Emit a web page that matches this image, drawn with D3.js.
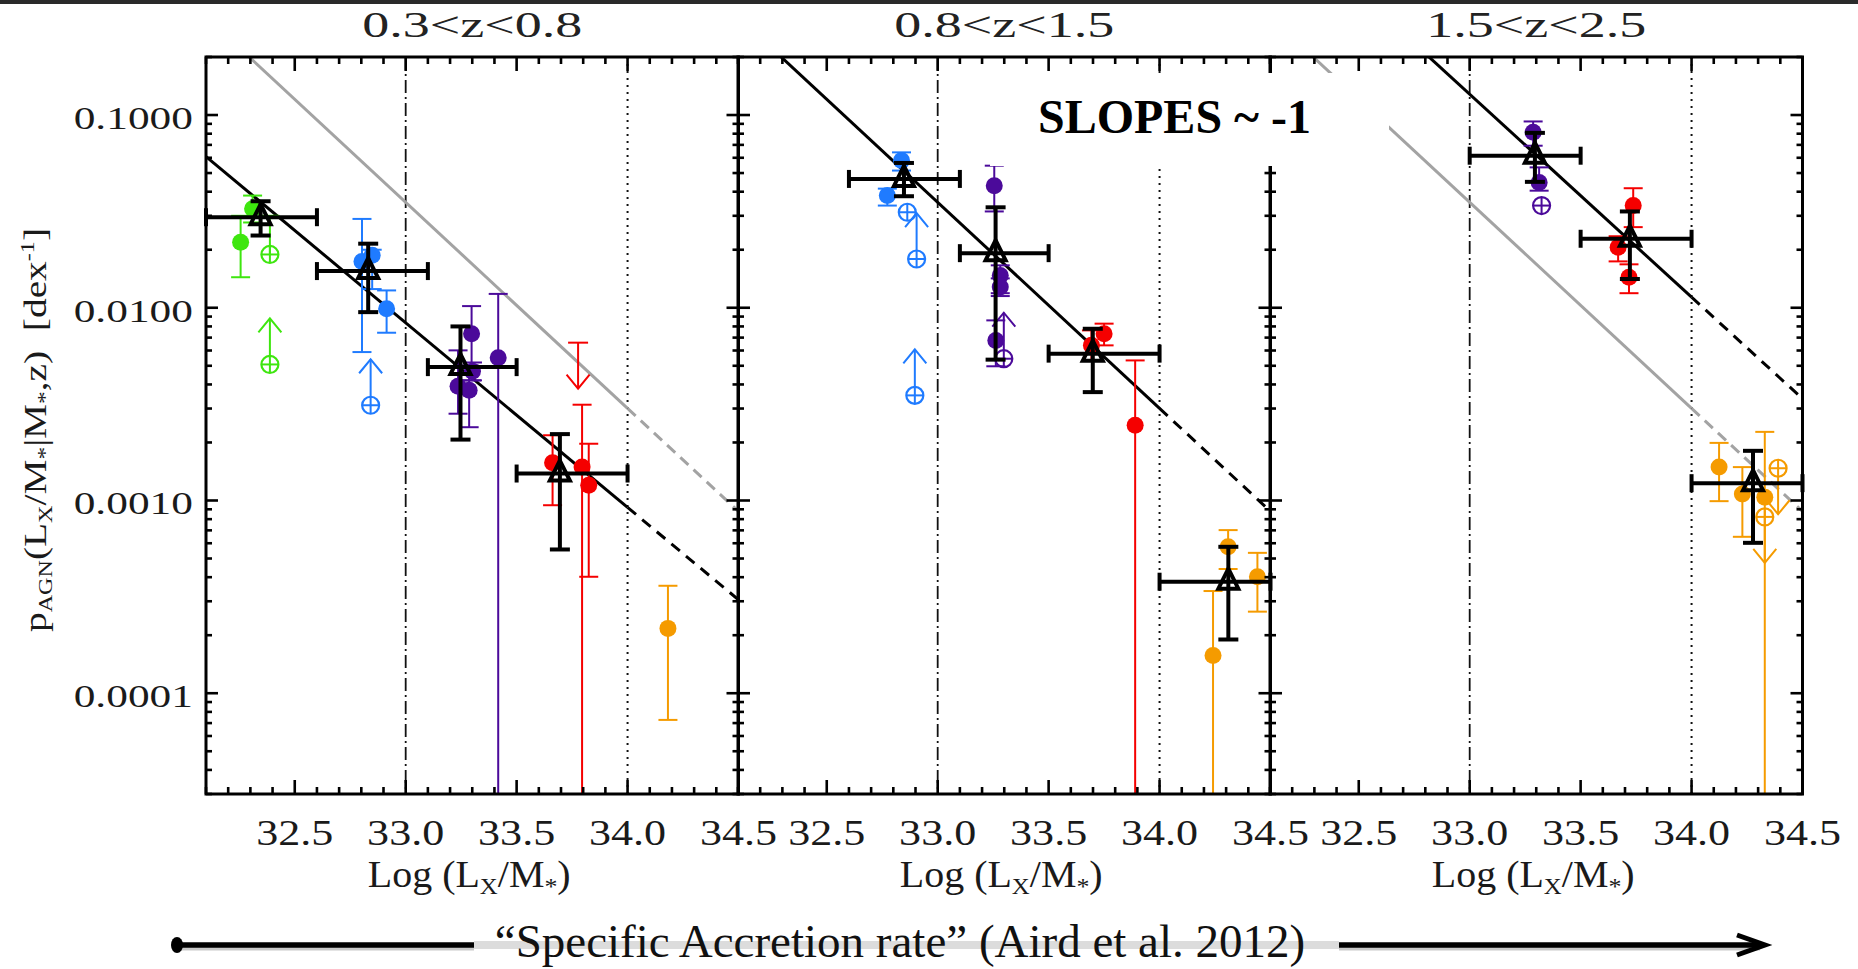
<!DOCTYPE html>
<html><head><meta charset="utf-8">
<script src="https://cdn.jsdelivr.net/npm/d3@7"></script>
<style>body{margin:0;background:#fff;} svg{display:block;}</style>
</head><body>
<svg id="c" width="1858" height="969"></svg>
<script>
// ---------------- DATA ----------------
const panelTitles = ["0.3<z<0.8", "0.8<z<1.5", "1.5<z<2.5"];
const xTickVals = [32.5, 33.0, 33.5, 34.0, 34.5];
const xTickLabels = ["32.5", "33.0", "33.5", "34.0", "34.5"];
const yTickVals = [0.0001, 0.001, 0.01, 0.1];
const yTickLabels = ["0.0001", "0.0010", "0.0100", "0.1000"];
const xDomain = [32.1, 34.5];
const yDomain = [3e-5, 0.2];
const refDashDot = 33.0;
const refDotted = 34.0;
// fits: log10(p) = fitLog34 + fitSlope * (x - 34)
const fitLog34 = [-3.036, -2.522, -1.945];
const fitSlope = [-0.958, -1.069, -1.053];
const grayFitPanels = [0, 2];   // panels showing the 0.8<z<1.5 fit in grey

// colored points: [x, p, pLow, pHigh, kind]
const green1 = [
  [32.256, 0.0219, 0.0144, 0.0300, "f"],
  [32.310, 0.0326, 0.0277, 0.0382, "f"],
  [32.388, 0.0189, 0.0189, 0.0300, "o"],
  [32.388, 0.00508, null, null, "o^"]
];
const blue1 = [
  [32.803, 0.0174, 0.00589, 0.0289, "f"],
  [32.849, 0.0187, 0.0125, 0.0200, "f"],
  [32.914, 0.00988, 0.00742, 0.0123, "f"],
  [32.842, 0.00312, null, null, "o^"]
];
const purple1 = [
  [33.297, 0.00733, 0.00420, 0.0102, "f"],
  [33.417, 0.00551, 1e-6, 0.0118, "f"],
  [33.236, 0.00391, 0.00282, 0.00601, "f"],
  [33.286, 0.00373, 0.00240, 0.00502, "f"],
  [33.301, 0.00469, 0.00420, 0.00520, "f"]
];
const red1 = [
  [33.777, 0.00659, null, null, "ul"],
  [33.662, 0.00157, 0.000945, 0.00218, "f"],
  [33.795, 0.00149, 1e-6, 0.00314, "f"],
  [33.825, 0.00120, 0.000402, 0.00197, "f"]
];
const orange1 = [
  [34.182, 0.000217, 0.0000727, 0.000361, "f"]
];
const blue2 = [
  [32.837, 0.0580, 0.0515, 0.0640, "f"],
  [32.773, 0.0382, 0.0339, 0.0415, "f"],
  [32.863, 0.0313, 0.0313, 0.0313, "o"],
  [32.905, 0.0179, null, null, "o^"],
  [32.897, 0.00351, null, null, "o^"]
];
const purple2 = [
  [33.255, 0.0430, 0.0316, 0.0546, "f"],
  [33.282, 0.0147, 0.0119, 0.0166, "f"],
  [33.282, 0.0128, 0.0115, 0.0142, "f"],
  [33.262, 0.00677, 0.00497, 0.0086, "f"],
  [33.298, 0.00544, null, null, "o^"]
];
const red2 = [
  [33.693, 0.00638, 0.00533, 0.00763, "f"],
  [33.750, 0.00733, 0.00638, 0.00827, "f"],
  [33.890, 0.00246, 1e-6, 0.00533, "f"]
];
const orange2 = [
  [34.309, 0.000575, 0.000441, 0.000702, "f"],
  [34.441, 0.000402, 0.000265, 0.000535, "f"],
  [34.241, 0.000157, 1e-6, 0.000339, "f"]
];
const purple3 = [
  [33.286, 0.0813, 0.0693, 0.0926, "f"],
  [33.313, 0.0447, 0.0405, 0.0535, "f"],
  [33.324, 0.0339, 0.0339, 0.0339, "o"]
];
const red3 = [
  [33.737, 0.0339, 0.0262, 0.0417, "f"],
  [33.669, 0.0206, 0.0174, 0.0235, "f"],
  [33.718, 0.0144, 0.0119, 0.0168, "f"]
];
const orange3 = [
  [34.124, 0.00149, 0.000992, 0.00199, "f"],
  [34.229, 0.00108, 0.000648, 0.00149, "f"],
  [34.330, 0.00104, 1e-6, 0.00227, "f"],
  [34.390, 0.00147, null, null, "ov"],
  [34.330, 0.000822, null, null, "ov"]
];
// binned (black triangles): [x, xLow, xHigh, p, pLow, pHigh]
const binned1 = [
  [32.346, 32.1, 32.6, 0.0295, 0.0237, 0.0357],
  [32.831, 32.6, 33.1, 0.0155, 0.00949, 0.0215],
  [33.247, 33.1, 33.5, 0.00492, 0.00207, 0.00800],
  [33.695, 33.5, 34.0, 0.00138, 0.000557, 0.00221]
];
const binned2 = [
  [32.848, 32.6, 33.1, 0.0466, 0.0379, 0.0564],
  [33.261, 33.1, 33.5, 0.0192, 0.00538, 0.0332],
  [33.699, 33.5, 34.0, 0.00578, 0.00365, 0.00778],
  [34.310, 34.0, 34.5, 0.000379, 0.000190, 0.000575]
];
const binned3 = [
  [33.294, 33.0, 33.5, 0.0615, 0.0450, 0.0808],
  [33.722, 33.5, 34.0, 0.0228, 0.0141, 0.0316],
  [34.277, 34.0, 34.5, 0.00123, 0.000603, 0.00181]
];

// ---------------- STYLE / LAYOUT ----------------
const C = {green: "#3ee60f", blue: "#1f7bff", purple: "#4b0a9a", red: "#f50000", orange: "#f59b00"};
const colored = [
  [[green1, C.green], [blue1, C.blue], [purple1, C.purple], [red1, C.red], [orange1, C.orange]],
  [[blue2, C.blue], [purple2, C.purple], [red2, C.red], [orange2, C.orange]],
  [[purple3, C.purple], [red3, C.red], [orange3, C.orange]]
];
const binned = [binned1, binned2, binned3];

const W = 1858, H = 969;
const PL = [206, 738, 1270], PW = 532.5, PT = 57, PB = 794;
const FONT = "'Liberation Serif', 'Times New Roman', serif";

const svg = d3.select("#c");
const xs = PL.map(l => d3.scaleLinear().domain(xDomain).range([l, l + PW]));
const y = d3.scaleLog().domain(yDomain).range([PB, PT]);

const defs = svg.append("defs");
PL.forEach((l, i) => {
  defs.append("clipPath").attr("id", "clip" + i).append("rect")
    .attr("x", l).attr("y", PT).attr("width", PW).attr("height", PB - PT);
});
defs.append("clipPath").attr("id", "titleClip").append("rect")
  .attr("x", 0).attr("y", 13).attr("width", W).attr("height", 60);

// top dark strip
svg.append("rect").attr("x", 0).attr("y", 0).attr("width", W).attr("height", 4).attr("fill", "#2a2a2a");

function seg(g, x1, y1, x2, y2, color, w, dash) {
  const l = g.append("line").attr("x1", x1).attr("y1", y1).attr("x2", x2).attr("y2", y2)
    .attr("stroke", color).attr("stroke-width", w);
  if (dash) l.attr("stroke-dasharray", dash);
  return l;
}

function fitVal(fi, x) { return Math.pow(10, fitLog34[fi] + fitSlope[fi] * (x - 34)); }

const titleG = svg.append("g").attr("clip-path", "url(#titleClip)");

// ---------------- PANELS ----------------
PL.forEach((l, i) => {
  const X = xs[i];
  const g = svg.append("g").attr("clip-path", `url(#clip${i})`);
  // reference vertical lines
  seg(g, X(refDashDot), PT, X(refDashDot), PB, "#111", 1.8, "13,4,2,4");
  seg(g, X(refDotted), PT, X(refDotted), PB, "#111", 2, "2,5");
  // gray fit
  if (grayFitPanels.includes(i)) {
    seg(g, X(xDomain[0]), y(fitVal(1, xDomain[0])), X(34), y(fitVal(1, 34)), "#a3a3a3", 3);
    seg(g, X(34), y(fitVal(1, 34)), X(xDomain[1]), y(fitVal(1, xDomain[1])), "#a3a3a3", 3, "11,7");
  }
  // black fit
  seg(g, X(xDomain[0]), y(fitVal(i, xDomain[0])), X(34), y(fitVal(i, 34)), "#000", 3);
  seg(g, X(34), y(fitVal(i, 34)), X(xDomain[1]), y(fitVal(i, xDomain[1])), "#000", 3, "11,8");

  // colored points
  const gd = svg.append("g");
  colored[i].forEach(([data, color]) => {
    data.forEach(([xv, pv, lo, hi, kind]) => {
      const cx = X(xv), cy = y(pv);
      if (lo != null && hi != null) {
        const yl = Math.min(PB, y(lo)), yh = y(hi);
        if (yl - yh > 0.5) {
          seg(gd, cx, yh, cx, yl, color, 2);
          if (hi > pv) seg(gd, cx - 9.5, yh, cx + 9.5, yh, color, 2);
          if (lo < pv) seg(gd, cx - 9.5, yl, cx + 9.5, yl, color, 2);
        }
      }
      if (kind === "f") {
        gd.append("circle").attr("cx", cx).attr("cy", cy).attr("r", 8.5).attr("fill", color);
      }
      if (kind[0] === "o") {
        gd.append("circle").attr("cx", cx).attr("cy", cy).attr("r", 8.5)
          .attr("fill", "none").attr("stroke", color).attr("stroke-width", 2.2);
        seg(gd, cx - 8.5, cy, cx + 8.5, cy, color, 2);
        seg(gd, cx, cy - 8.5, cx, cy + 8.5, color, 2);
      }
      const arrow = (y0, tip, dir) => {
        seg(gd, cx, y0, cx, tip, color, 2);
        gd.append("polyline").attr("points",
          `${cx - 11.5},${tip - dir * 14} ${cx},${tip} ${cx + 11.5},${tip - dir * 14}`)
          .attr("fill", "none").attr("stroke", color).attr("stroke-width", 2);
      };
      if (kind === "o^") arrow(cy - 8.5, cy - 46, -1);
      if (kind === "ov") arrow(cy + 8.5, cy + 46, 1);
      if (kind === "ul") {
        seg(gd, cx - 10, cy, cx + 10, cy, color, 2);
        arrow(cy, cy + 46, 1);
      }
    });
  });

  // binned black triangles
  const gb = svg.append("g");
  binned[i].forEach(([xv, xlo, xhi, pv, plo, phi]) => {
    const cx = X(xv), cy = y(pv);
    seg(gb, X(xlo), cy, X(xhi), cy, "#000", 4);
    seg(gb, X(xlo), cy - 9, X(xlo), cy + 9, "#000", 4);
    seg(gb, X(xhi), cy - 9, X(xhi), cy + 9, "#000", 4);
    seg(gb, cx, y(phi), cx, y(plo), "#000", 4);
    seg(gb, cx - 10, y(phi), cx + 10, y(phi), "#000", 4);
    seg(gb, cx - 10, y(plo), cx + 10, y(plo), "#000", 4);
    gb.append("path").attr("d", d3.line()([[cx, cy - 13], [cx + 10, cy + 7], [cx - 10, cy + 7]]) + "Z")
      .attr("fill", "none").attr("stroke", "#000").attr("stroke-width", 4).attr("stroke-linejoin", "miter");
  });
});

// frames and ticks
PL.forEach((l, i) => {
  const X = xs[i];
  const g = svg.append("g");
  g.append("rect").attr("x", l).attr("y", PT).attr("width", PW).attr("height", PB - PT)
    .attr("fill", "none").attr("stroke", "#000").attr("stroke-width", 3);
  const xt = d3.range(0, 25).map(k => +(xDomain[0] + k * 0.1).toFixed(1));
  xt.forEach(v => {
    const major = Math.abs(v * 2 - Math.round(v * 2)) < 1e-6;
    const len = major ? 14 : 7;
    seg(g, X(v), PB, X(v), PB - len, "#000", 2.6);
    seg(g, X(v), PT, X(v), PT + len, "#000", 2.6);
  });
  const yt = [];
  for (let d = -5; d <= 0; d++) for (let k = 1; k <= 9; k++) {
    const v = k * Math.pow(10, d);
    if (v >= yDomain[0] * 0.999 && v <= yDomain[1] * 1.001) yt.push([v, k === 1]);
  }
  yt.forEach(([v, major]) => {
    const len = major ? 12 : 6;
    seg(g, l, y(v), l + len, y(v), "#000", 2.6);
    seg(g, l + PW, y(v), l + PW - len, y(v), "#000", 2.6);
  });
  // x tick labels
  xTickVals.forEach((v, k) => {
    svg.append("text").attr("transform", `translate(${X(v)},845) scale(1.26,1)`)
      .attr("text-anchor", "middle").attr("font-family", FONT).attr("font-size", 35)
      .attr("fill", "#1a1a1a").text(xTickLabels[k]);
  });
  // x axis title
  const t = svg.append("text").attr("transform", `translate(${l + PW / 2 - 3},887) scale(1.08,1)`)
    .attr("text-anchor", "middle").attr("font-family", FONT).attr("font-size", 37).attr("fill", "#1a1a1a");
  t.append("tspan").text("Log (L");
  t.append("tspan").attr("font-size", 23).attr("dy", 7).text("X");
  t.append("tspan").attr("dy", -7).text("/M");
  t.append("tspan").attr("font-size", 24).attr("dy", 7).text("*");
  t.append("tspan").attr("dy", -7).text(")");
  // panel title (clipped at top like the reference)
  titleG.append("text")
    .attr("transform", `translate(${l + PW / 2},37) scale(1.5,1)`)
    .attr("text-anchor", "middle").attr("font-family", FONT).attr("font-size", 36)
    .attr("fill", "#222").text(panelTitles[i]);
});

// y tick labels
yTickVals.forEach((v, k) => {
  svg.append("text").attr("transform", `translate(193,${y(v) + 14}) scale(1.4,1)`)
    .attr("text-anchor", "end").attr("font-family", FONT).attr("font-size", 31)
    .attr("fill", "#1a1a1a").text(yTickLabels[k]);
});

// y axis title
{
  const t = svg.append("text").attr("transform", "translate(46,430) rotate(-90) scale(1.27,1)")
    .attr("text-anchor", "middle").attr("font-family", FONT).attr("font-size", 31).attr("fill", "#1a1a1a");
  t.append("tspan").text("p");
  t.append("tspan").attr("font-size", 19).attr("dy", 6).text("AGN");
  t.append("tspan").attr("dy", -6).text("(L");
  t.append("tspan").attr("font-size", 19).attr("dy", 6).text("X");
  t.append("tspan").attr("dy", -6).text("/M");
  t.append("tspan").attr("font-size", 20).attr("dy", 6).text("*");
  t.append("tspan").attr("dy", -6).text("|M");
  t.append("tspan").attr("font-size", 20).attr("dy", 6).text("*");
  t.append("tspan").attr("dy", -6).text(",z)\u00a0\u00a0[dex");
  t.append("tspan").attr("font-size", 19).attr("dy", -12).text("-1");
  t.append("tspan").attr("dy", 12).text("]");
}

// white box and SLOPES label
svg.append("rect").attr("x", 990).attr("y", 73).attr("width", 399).attr("height", 93).attr("fill", "#fff");
svg.append("text").attr("x", 1038).attr("y", 133).attr("font-family", FONT).attr("font-weight", "bold")
  .attr("font-size", 48).attr("fill", "#000").text("SLOPES ~ -1");

// bottom arrow and caption
{
  const g = svg.append("g");
  seg(g, 178, 948, 474, 948, "#c9c9c9", 5);
  seg(g, 1339, 948, 1760, 948, "#c9c9c9", 5);
  seg(g, 474, 945, 1339, 945, "#dcdcdc", 8);
  seg(g, 175, 945, 474, 945, "#000", 5.5);
  seg(g, 1339, 945, 1762, 945, "#000", 5.5);
  g.append("ellipse").attr("cx", 177).attr("cy", 945).attr("rx", 6).attr("ry", 8).attr("fill", "#000");
  g.append("polyline").attr("points", "1737,935 1765,945 1737,955").attr("fill", "none")
    .attr("stroke", "#000").attr("stroke-width", 5).attr("stroke-linejoin", "miter");
  svg.append("text").attr("x", 900).attr("y", 957).attr("text-anchor", "middle")
    .attr("font-family", FONT).attr("font-size", 47).attr("fill", "#111")
    .text("\u201cSpecific Accretion rate\u201d (Aird et al. 2012)");
}
</script>
</body></html>
